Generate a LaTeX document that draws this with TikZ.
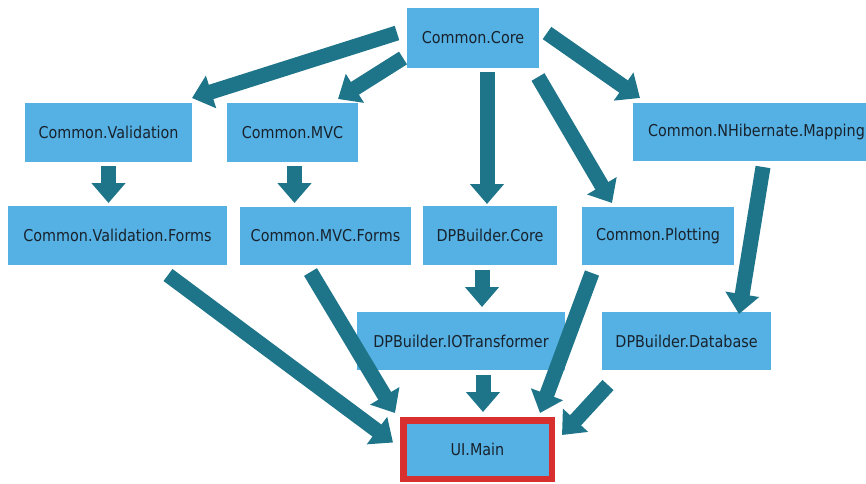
\documentclass[tikz,border=0pt]{standalone}
\usepackage{fontspec}
\setmainfont{DejaVu Sans}[FakeStretch=0.88]
\usetikzlibrary{arrows.meta}
\definecolor{boxblue}{HTML}{55B1E4}
\definecolor{arrowteal}{HTML}{1E7589}
\definecolor{mainred}{HTML}{D8302F}
\definecolor{labelink}{HTML}{18222C}
\begin{document}
\begin{tikzpicture}[x=1pt,y=-1pt,
  box/.style={fill=boxblue,text=labelink,inner sep=0pt,outer sep=0pt,
    minimum height=59pt,font=\fontsize{16.3}{19}\selectfont},
  dep/.style={arrowteal,line width=15pt,-{Triangle[width=33pt,length=20pt]}}]
  \useasboundingbox (0,0) rectangle (866,483);
  % projects
  \node[box,minimum width=132pt,minimum height=60pt] (core) at (473,38) {Common.Core};
  \node[box,minimum width=167pt] (val) at (108.5,132.5) {Common.Validation};
  \node[box,minimum width=131pt] (mvc) at (292.5,132.5) {Common.MVC};
  \node[box,minimum width=247pt,minimum height=58pt] (nhib) at (756.5,132) {Common.NHibernate.Mapping};
  \node[box,minimum width=219pt] (valforms) at (117.5,235.5) {Common.Validation.Forms};
  \node[box,minimum width=171pt,minimum height=58pt] (mvcforms) at (325.5,236) {Common.MVC.Forms};
  \node[box,minimum width=134pt] (dpcore) at (490,235.5) {DPBuilder.Core};
  \node[box,minimum width=152pt,minimum height=58pt] (plot) at (658,236) {Common.Plotting};
  \node[box,minimum width=208pt,minimum height=58pt] (iot) at (461,341) {DPBuilder.IOTransformer};
  \node[box,minimum width=169pt,minimum height=58pt] (db) at (686.5,341) {DPBuilder.Database};
  \node[box,draw=mainred,line width=6.5pt,outer sep=3.25pt,
    minimum width=148.5pt,minimum height=58.5pt] (main) at (477.5,449.5) {UI.Main};
  % dependencies
  \draw[dep] ([xshift=-10pt,yshift=5pt]core.west) -- ([yshift=5pt]val.north east);
  \draw[dep] ([xshift=-4pt,yshift=10pt]core.south west) -- ([xshift=-20pt,yshift=4pt]mvc.north east);
  \draw[dep] ([xshift=14pt,yshift=-4pt]core.south) -- ([xshift=-3pt,yshift=2pt]dpcore.north);
  \draw[dep] ([xshift=-1pt,yshift=-9pt]core.south east) -- ([xshift=30pt,yshift=4pt]plot.north west);
  \draw[dep] ([xshift=8pt,yshift=5pt]core.east) -- ([xshift=7pt,yshift=5pt]nhib.north west);
  \draw[dep] ([yshift=-4pt]val.south) -- ([xshift=-9pt,yshift=3pt]valforms.north);
  \draw[dep] ([xshift=2pt,yshift=-4pt]mvc.south) -- ([xshift=-31pt,yshift=4pt]mvcforms.north);
  \draw[dep] ([xshift=6.5pt,yshift=-6pt]nhib.south) -- ([xshift=-32pt,yshift=-2pt]db.north east);
  \draw[dep] ([xshift=-8pt,yshift=-5pt]dpcore.south) -- ([xshift=21pt,yshift=5pt]iot.north);
  \draw[dep] ([xshift=-59pt,yshift=-10pt]valforms.south east) -- ([xshift=-7pt,yshift=7pt]main.west);
  \draw[dep] ([xshift=-15pt,yshift=-7pt]mvcforms.south) -- ([xshift=-5pt,yshift=4pt]main.north west);
  \draw[dep] ([xshift=22pt,yshift=-5pt]iot.south) -- ([xshift=5.5pt,yshift=5pt]main.north);
  \draw[dep] ([xshift=10pt,yshift=-8pt]plot.south west) -- ([xshift=-15pt,yshift=4pt]main.north east);
  \draw[dep] ([xshift=6pt,yshift=-15pt]db.south west) -- ([xshift=7pt,yshift=14.5pt]main.east);
\end{tikzpicture}
\end{document}
